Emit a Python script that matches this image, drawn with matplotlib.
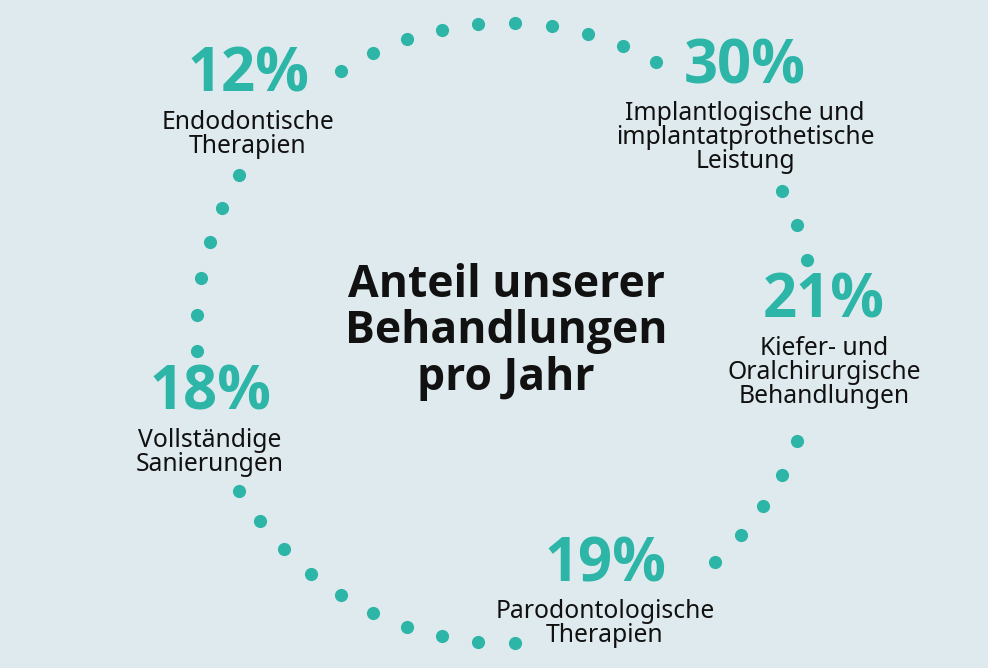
import numpy as np
import matplotlib
matplotlib.use("Agg")
import matplotlib.pyplot as plt

# shares per treatment (percent) and their captions
shares = [12, 30, 21, 18, 19]
captions = [
    ["Endodontische", "Therapien"],
    ["Implantlogische und", "implantatprothetische", "Leistung"],
    ["Kiefer- und", "Oralchirurgische", "Behandlungen"],
    ["Vollständige", "Sanierungen"],
    ["Parodontologische", "Therapien"],
]
title_lines = ["Anteil unserer", "Behandlungen", "pro Jahr"]

# layout (pixel coords): centre x, baseline of the percentage
label_pos = [(248, 92), (745, 83), (824, 318), (210, 410), (605, 581)]

# ring of dots: 53 slots, some left out to make room for the labels
n_slots = 53
dot_slots = list(range(2, 5)) + list(range(9, 19)) + list(range(22, 28)) \
    + list(range(31, 41)) + list(range(46, 51))

bg = "#dfeaee"
teal = "#2db5a8"
ink = "#111111"

fig = plt.figure(figsize=(9.88, 6.68), dpi=100)
fig.patch.set_facecolor(bg)
ax = fig.add_axes([0, 0, 1, 1])
ax.set_facecolor(bg)
ax.set_xlim(0, 988)
ax.set_ylim(668, 0)
ax.axis("off")

cx, cy, r = 506, 333, 310
ang = np.array(dot_slots) * 2 * np.pi / n_slots
ax.scatter(cx + r * np.cos(ang), cy - r * np.sin(ang), s=90, color=teal,
           linewidths=0, zorder=2)

# centre title
for i, line in enumerate(title_lines):
    ax.text(506, 297 + i * 46.5, line, ha="center", va="baseline",
            fontsize=32, fontweight="bold", family="Open Sans", color=ink)

# percentages and captions
for share, lines, (x, y) in zip(shares, captions, label_pos):
    ax.text(x, y, f"{share}%", ha="center", va="baseline", fontsize=43,
            fontweight="bold", family="Open Sans", color=teal)
    for j, line in enumerate(lines):
        ax.text(x, y + 37 + j * 24, line, ha="center", va="baseline",
                fontsize=17.8, family="Noto Sans", color=ink)

fig.savefig("out.png", dpi=100, facecolor=bg)
